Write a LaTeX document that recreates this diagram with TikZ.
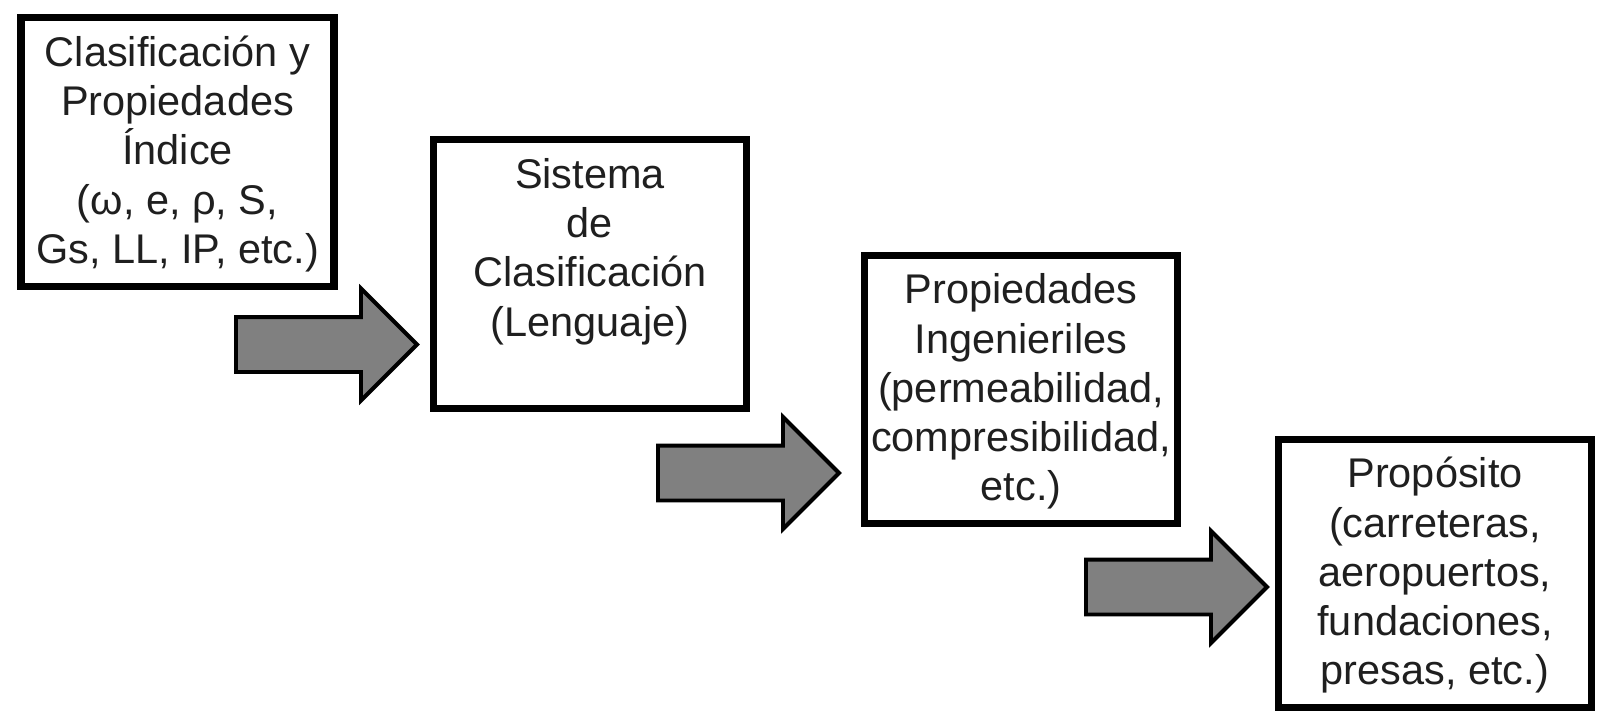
\documentclass[tikz,border=0pt]{standalone}
\usepackage{fontspec}
\setmainfont{Liberation Sans}
\usepackage{tikz}
\usetikzlibrary{positioning}
\usetikzlibrary{shapes.arrows}
\newcommand{\boxtext}[1]{\parbox[c][6.0cm][t]{7.6cm}{\centering\strut #1}}

\begin{document}
\begin{tikzpicture}[
  box/.style={draw=black,line width=5pt,fill=white,inner sep=0pt,
    minimum width=7.825cm,minimum height=6.72cm,
    font=\fontsize{29.5}{35}\selectfont,text=black!88},
  blockarrow/.style={single arrow,draw=black,line width=2.8pt,fill=gray,
    minimum height=4.525cm,inner xsep=0pt,inner ysep=0.6375cm,
    single arrow head extend=0.7125cm,anchor=tail}]
  \useasboundingbox (0,0) rectangle (40,18);
  % the four steps
  \node[box] (clasif) at (4.4375,14.2) {\boxtext{Clasificación y\\Propiedades\\Índice\\(ω, e, ρ, S,\\Gs, LL, IP, etc.)}};
  \node[box] (sistema) at (14.75,11.15) {\boxtext{Sistema\\de\\Clasificación\\(Lenguaje)}};
  \node[box] (ingen) at (25.525,8.2625) {\boxtext{Propiedades\\Ingenieriles\\(permeabilidad,\\compresibilidad,\\etc.)}};
  \node[box] (proposito) at (35.875,3.6625) {\boxtext{Propósito\\(carreteras,\\aeropuertos,\\fundaciones,\\presas, etc.)}};
  % block arrows between the steps
  \node[blockarrow] (a1) at (5.85,9.3875) {};
  \node[blockarrow] (a2) at (16.4,6.175) {};
  \node[blockarrow] (a3) at (27.1,3.325) {};
\end{tikzpicture}
\end{document}
